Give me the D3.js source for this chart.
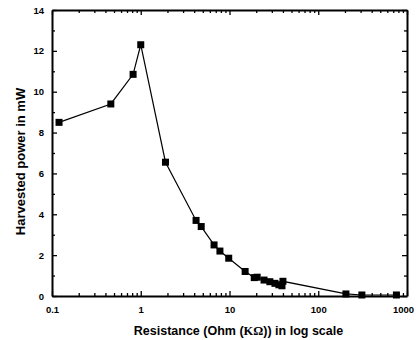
<!DOCTYPE html>
<html>
<head>
<meta charset="utf-8">
<script src="https://cdn.jsdelivr.net/npm/d3@7"></script>
<style>
  body { margin: 0; background: #fff; }
  text { font-family: "Liberation Sans", Arial, sans-serif; font-weight: bold; }
</style>
</head>
<body>
<div id="chart"></div>
<script>
// data
var resistance = [0.12, 0.46, 0.82, 1.0, 1.9, 4.2, 4.8, 6.7, 7.8, 9.8, 15, 19, 20.5, 24.5, 28.5, 32.5, 36, 39, 40, 205, 310, 760];
var power = [8.5, 9.4, 10.85, 12.3, 6.55, 3.7, 3.4, 2.5, 2.2, 1.85, 1.2, 0.9, 0.92, 0.78, 0.7, 0.62, 0.55, 0.5, 0.72, 0.1, 0.05, 0.05];
var xTickVals = [0.1, 1, 10, 100, 1000];
var yTickVals = [0, 2, 4, 6, 8, 10, 12, 14];

var margin = {top: 10, right: 9, bottom: 44, left: 52},
    width = 416 - margin.left - margin.right,
    height = 340 - margin.top - margin.bottom;

var svg = d3.select("#chart")
  .append("svg")
    .attr("width", 416)
    .attr("height", 340)
  .append("g")
    .attr("transform", "translate(" + margin.left + "," + margin.top + ")");

var x = d3.scaleLog()
    .domain([0.1, 1000])
    .range([0, width]);

var y = d3.scaleLinear()
    .domain([0, 14])
    .range([height, 0]);

// minor log ticks (2..9 in each decade)
var minorX = [];
for (var d = 0.1; d < 1000; d *= 10) {
  for (var k = 2; k < 10; k++) minorX.push(+(d * k).toPrecision(3));
}
var minorY = [1, 3, 5, 7, 9, 11, 13];

// bottom axis
var xAxis = svg.append("g")
    .attr("transform", "translate(0," + height + ")")
    .call(d3.axisBottom(x).tickValues(xTickVals).tickFormat(d3.format("~g")).tickSizeInner(-5).tickSizeOuter(0).tickPadding(10));
xAxis.selectAll("text").style("font-size", "9.5px").style("fill", "#000");
// last label sits a bit left so it stays inside the window
xAxis.selectAll(".tick").filter(function(d) { return d === 1000; })
    .select("text").attr("dx", -4);
svg.append("g")
    .attr("transform", "translate(0," + height + ")")
    .call(d3.axisBottom(x).tickValues(minorX).tickFormat("").tickSizeInner(-3).tickSizeOuter(0))
    .select(".domain").remove();

// top axis
svg.append("g")
    .call(d3.axisTop(x).tickValues(xTickVals).tickFormat("").tickSizeInner(-5).tickSizeOuter(0));
svg.append("g")
    .call(d3.axisTop(x).tickValues(minorX).tickFormat("").tickSizeInner(-3).tickSizeOuter(0))
    .select(".domain").remove();

// left axis
var yAxis = svg.append("g")
    .call(d3.axisLeft(y).tickValues(yTickVals).tickSizeInner(-5).tickSizeOuter(0).tickPadding(8));
yAxis.selectAll("text").style("font-size", "9.5px").style("fill", "#000");
svg.append("g")
    .call(d3.axisLeft(y).tickValues(minorY).tickFormat("").tickSizeInner(-3).tickSizeOuter(0))
    .select(".domain").remove();

// right axis
svg.append("g")
    .attr("transform", "translate(" + width + ",0)")
    .call(d3.axisRight(y).tickValues(yTickVals).tickFormat("").tickSizeInner(-5).tickSizeOuter(0));
svg.append("g")
    .attr("transform", "translate(" + width + ",0)")
    .call(d3.axisRight(y).tickValues(minorY).tickFormat("").tickSizeInner(-3).tickSizeOuter(0))
    .select(".domain").remove();

svg.selectAll(".domain").attr("stroke-width", 2).attr("stroke", "#000");
svg.selectAll(".tick line").attr("stroke-width", 1.3).attr("stroke", "#000");

// axis titles
var xt = svg.append("text")
    .attr("x", width / 2 + 9)
    .attr("y", height + 39)
    .attr("text-anchor", "middle")
    .style("font-size", "12.5px");
xt.append("tspan").text("Resistance (Ohm (");
xt.append("tspan").style("font-family", "'Liberation Serif', serif").text("KΩ");
xt.append("tspan").text(")) in log scale");

svg.append("text")
    .attr("transform", "rotate(-90)")
    .attr("x", -151.5)
    .attr("y", -27)
    .attr("text-anchor", "middle")
    .style("font-size", "13px")
    .text("Harvested power in mW");

var pts = resistance.map(function(r, i) { return {r: r, p: power[i]}; });

// line
svg.append("path")
    .datum(pts)
    .attr("fill", "none")
    .attr("stroke", "#000")
    .attr("stroke-width", 1.2)
    .attr("d", d3.line()
      .x(function(d) { return x(d.r); })
      .y(function(d) { return y(d.p); }));

// square markers
var s = 7;
svg.append("g")
  .selectAll("rect")
  .data(pts)
  .enter()
  .append("rect")
    .attr("x", function(d) { return x(d.r) - s / 2; })
    .attr("y", function(d) { return y(d.p) - s / 2; })
    .attr("width", s)
    .attr("height", s)
    .attr("fill", "#000");
</script>
</body>
</html>
